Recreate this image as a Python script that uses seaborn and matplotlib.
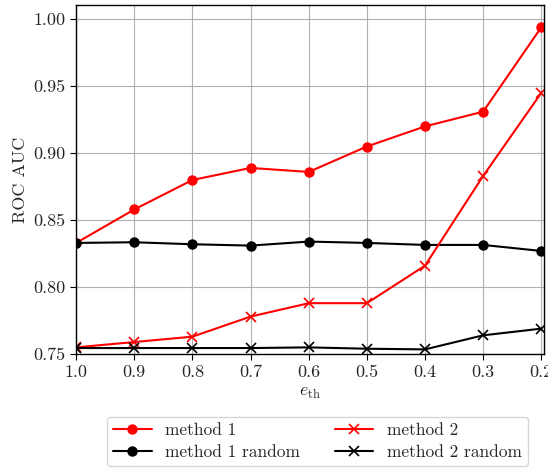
import numpy as np
import pandas as pd
import matplotlib
matplotlib.use("Agg")
import matplotlib.pyplot as plt
import seaborn as sns

e_th = [1.0, 0.9, 0.8, 0.7, 0.6, 0.5, 0.4, 0.3, 0.2]
method1 = [0.833, 0.858, 0.880, 0.889, 0.886, 0.905, 0.920, 0.931, 0.994]
method1_random = [0.833, 0.8335, 0.832, 0.831, 0.834, 0.833, 0.8315, 0.8315, 0.827]
method2 = [0.755, 0.759, 0.763, 0.778, 0.788, 0.788, 0.816, 0.883, 0.945]
method2_random = [0.7545, 0.7545, 0.7545, 0.7545, 0.755, 0.754, 0.7535, 0.764, 0.769]
yticks = [0.75, 0.80, 0.85, 0.90, 0.95, 1.00]
xticks = [1.0, 0.9, 0.8, 0.7, 0.6, 0.5, 0.4, 0.3, 0.2]

sns.set_style("ticks")
plt.rcParams["font.family"] = ["cmr10", "DejaVu Serif"]
plt.rcParams["mathtext.fontset"] = "cm"
plt.rcParams["axes.formatter.use_mathtext"] = True
plt.rcParams["axes.unicode_minus"] = False

fig = plt.figure(figsize=(5.48, 4.74), dpi=100)
ax = fig.add_axes([0.139, 0.253, 0.854, 0.736])

series = [
    ("method 1", method1, "red", "o"),
    ("method 1 random", method1_random, "black", "o"),
    ("method 2", method2, "red", "x"),
    ("method 2 random", method2_random, "black", "x"),
]
for name, vals, col, mk in series:
    df = pd.DataFrame({"x": e_th, "y": vals})
    sns.lineplot(data=df, x="x", y="y", ax=ax, color=col, marker=mk,
                 markersize=7.5 if mk == "o" else 7, linewidth=1.5,
                 markeredgewidth=1.2 if mk == "x" else 0,
                 markeredgecolor=col, label=name)

ax.set_xlim(1.0, 0.195)
ax.set_ylim(0.75, 1.0105)
ax.set_xticks(xticks)
ax.set_xticklabels([f"{v:.1f}" for v in xticks])
ax.set_yticks(yticks)
ax.set_yticklabels([f"{v:.2f}" for v in yticks])
ax.grid(True, color="#b0b0b0", linewidth=0.8)
ax.tick_params(labelsize=13, direction="out", length=4, color="black")
for s in ax.spines.values():
    s.set_color("black")
    s.set_linewidth(1.0)
ax.set_xlabel(r"$e_{\mathrm{th}}$", fontsize=13)
ax.set_ylabel("ROC AUC", fontsize=13)

handles, labels = ax.get_legend_handles_labels()
ax.legend(handles, labels, loc="upper center", bbox_to_anchor=(0.516, -0.155),
          ncol=2, fontsize=12.5, frameon=True, edgecolor="#cccccc",
          columnspacing=2.0, handlelength=2.2, labelspacing=0.35,
          borderpad=0.35)

fig.savefig("out.png", dpi=100)
